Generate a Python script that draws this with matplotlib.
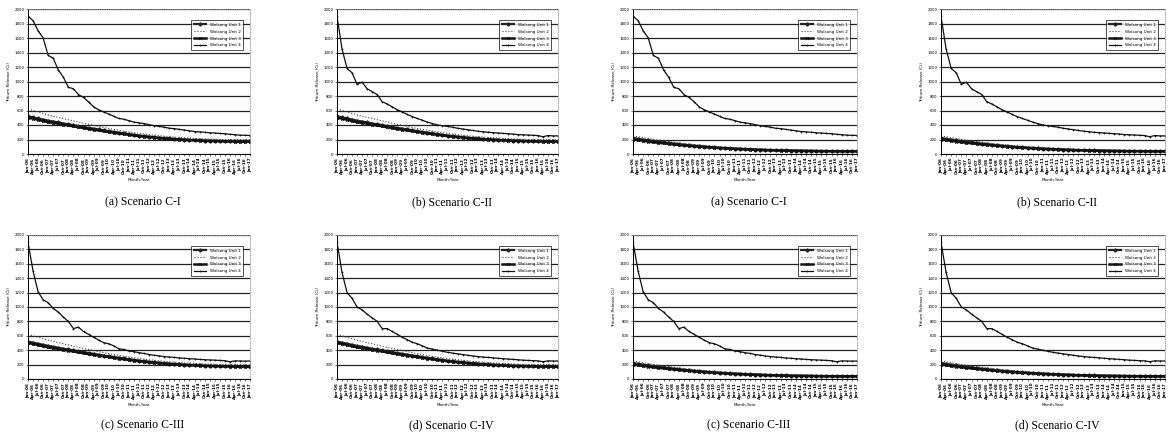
import matplotlib
matplotlib.use("Agg")
import matplotlib.pyplot as plt

# ---------------- data (quarterly) ----------------
years = list(range(6, 17))
months = ["Jan", "Apr", "Jul", "Oct"]
tick_labels = [f"{m}-{y:02d}" for y in years for m in months] + ["Jan-17"]

# Unit 4 per scenario (shared by both groups)
u4_c1 = [1900, 1840, 1700, 1600, 1360, 1320, 1160, 1060, 920, 900, 820, 780, 720, 650, 610,
         580, 550, 520, 490, 480, 460, 440, 430, 420, 405, 390, 380, 370, 355, 350, 340,
         330, 320, 310, 305, 300, 292, 290, 283, 280, 272, 266, 260, 258, 255]
u4_c2 = [1900, 1450, 1180, 1120, 960, 990, 900, 860, 820, 720, 690, 650, 610, 580, 545,
         515, 490, 465, 440, 420, 400, 390, 380, 370, 355, 345, 335, 325, 315, 308, 300,
         295, 290, 285, 280, 275, 268, 265, 262, 258, 255, 238, 255, 250, 250]
u4_c3 = [1900, 1500, 1210, 1100, 1060, 980, 930, 860, 800, 700, 720, 660, 620, 580, 540,
         505, 490, 460, 420, 410, 390, 380, 365, 355, 340, 330, 320, 312, 305, 300, 292,
         288, 282, 278, 272, 268, 265, 262, 258, 254, 240, 252, 250, 248, 250]
u4_c4 = [1900, 1480, 1200, 1120, 1000, 960, 900, 850, 800, 700, 700, 660, 620, 580, 545,
         510, 490, 460, 430, 415, 400, 385, 370, 360, 350, 340, 330, 320, 312, 305, 300,
         295, 288, 282, 278, 272, 268, 262, 258, 255, 252, 240, 252, 250, 250]

# Units 1-3, left group
l_u1 = [520, 505, 490, 475, 460, 448, 435, 420, 410, 398, 385, 372, 360, 350, 338,
        326, 316, 305, 295, 285, 275, 265, 255, 248, 240, 233, 226, 220, 214, 208, 204,
        200, 196, 192, 188, 186, 184, 182, 180, 178, 177, 176, 175, 175, 174]
l_u2 = [620, 600, 580, 560, 540, 520, 505, 490, 472, 456, 440, 425, 410, 395, 380,
        366, 352, 340, 328, 316, 305, 295, 285, 276, 268, 260, 253, 246, 240, 234, 229,
        224, 220, 216, 212, 209, 206, 204, 202, 200, 199, 198, 197, 196, 195]
l_u3 = [500, 488, 472, 456, 440, 430, 418, 404, 394, 382, 370, 358, 346, 336, 325,
        314, 304, 294, 284, 274, 265, 256, 247, 240, 232, 226, 219, 213, 208, 203, 199,
        195, 191, 188, 185, 182, 180, 178, 176, 174, 173, 172, 171, 170, 170]

# Units 1-3, right group
r_u1 = [220, 210, 198, 188, 178, 168, 160, 152, 144, 136, 128, 121, 115, 108, 103,
        97, 92, 87, 83, 79, 75, 72, 68, 65, 62, 60, 57, 55, 53, 51, 50,
        48, 47, 46, 45, 44, 43, 42, 42, 41, 41, 40, 40, 40, 40]
r_u2 = [250, 238, 226, 214, 202, 192, 182, 172, 163, 154, 146, 138, 131, 124, 118,
        112, 106, 100, 95, 90, 86, 82, 78, 74, 71, 68, 65, 62, 60, 58, 56,
        54, 53, 52, 51, 50, 49, 48, 48, 47, 47, 46, 46, 46, 45]
r_u3 = [200, 192, 182, 172, 163, 155, 147, 140, 133, 126, 119, 113, 107, 101, 96,
        91, 86, 82, 78, 74, 70, 67, 64, 61, 58, 56, 53, 51, 49, 47, 46,
        44, 43, 42, 41, 40, 39, 38, 38, 37, 37, 36, 36, 36, 36]

legend_labels = ["Wolsong Unit 1", "Wolsong Unit 2", "Wolsong Unit 3", "Wolsong Unit 4"]
captions = ["(a) Scenario C-I", "(b) Scenario C-II", "(c) Scenario C-III", "(d) Scenario C-IV"]
y_ticks = list(range(0, 2001, 200))

# ---------------- layout ----------------
W, H = 1169, 434
fig = plt.figure(figsize=(W / 100, H / 100), dpi=100)

col_x = [(28, 250), (337, 558), (633, 857), (941, 1165)]
row_y = [(9, 154), (235, 379)]
cap_y = [202, 425]

panels = []
for g in range(2):
    for s in range(4):
        col = g * 2 + (s % 2)
        row = s // 2
        panels.append((g, s, col, row))

u4s = [u4_c1, u4_c2, u4_c3, u4_c4]
groups = [(l_u1, l_u2, l_u3), (r_u1, r_u2, r_u3)]

for g, s, col, row in panels:
    x0, x1 = col_x[col]
    yt, yb = row_y[row]
    ax = fig.add_axes([x0 / W, (H - yb) / H, (x1 - x0) / W, (yb - yt) / H])
    u1, u2, u3 = groups[g]
    u4 = u4s[s]
    xs = list(range(len(tick_labels)))
    ax.plot(xs, u1, color="#222222", lw=1.6, marker="D", ms=1.6, label=legend_labels[0])
    ax.plot(xs, u2, color="#444444", lw=0.8, ls=":", label=legend_labels[1])
    ax.plot(xs, u3, color="#111111", lw=1.8, marker="x", ms=2.0, mew=0.6, label=legend_labels[2])
    ax.plot(xs, u4, color="#111111", lw=0.9, marker="+", ms=1.8, mew=0.5, label=legend_labels[3])

    ax.set_ylim(0, 2000)
    ax.set_xlim(0, len(tick_labels) - 1)
    ax.set_yticks(y_ticks)
    ax.set_yticklabels([str(v) for v in y_ticks], fontsize=2.8)
    ax.set_xticks(xs)
    ax.set_xticklabels(tick_labels, rotation=90, fontsize=3.0, fontweight="bold")
    ax.tick_params(length=1.2, width=0.4, pad=1.5)
    ax.grid(axis="y", color="#222222", lw=0.9)
    ax.set_axisbelow(True)
    for sp in ["top", "right"]:
        ax.spines[sp].set_linestyle(":")
        ax.spines[sp].set_color("#999999")
        ax.spines[sp].set_linewidth(0.6)
    for sp in ["left", "bottom"]:
        ax.spines[sp].set_linewidth(0.7)
    ax.set_ylabel("Tritium Release (Ci)", fontsize=3.0, labelpad=2)
    ax.set_xlabel("Month-Year", fontsize=3.0, labelpad=3)
    leg = ax.legend(loc="upper right", fontsize=3.0, frameon=True, fancybox=False,
                    edgecolor="black", handlelength=3.0, borderpad=0.7,
                    labelspacing=0.7, bbox_to_anchor=(0.98, 0.94))
    leg.get_frame().set_linewidth(0.6)

    fig.text((x0 + x1) / 2 / W + 4 / W, 1 - cap_y[row] / H, captions[s],
             ha="center", va="center", fontsize=8.5, family="Liberation Serif")

fig.savefig("out.png", dpi=100)
